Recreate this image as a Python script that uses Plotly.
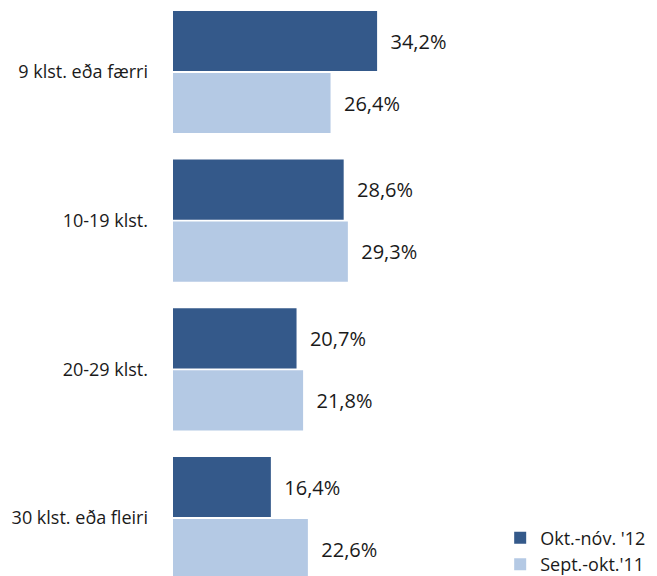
import plotly.graph_objects as go

categories = ["9 klst. eða færri", "10-19 klst.", "20-29 klst.", "30 klst. eða fleiri"]
series_names = ["Okt.-nóv. '12", "Sept.-okt.'11"]
values_2012 = [34.2, 28.6, 20.7, 16.4]
values_2011 = [26.4, 29.3, 21.8, 22.6]
colors = ["#34598A", "#B4C9E4"]

def fmt(v):
    return "  " + f"{v:.1f}".replace(".", ",") + "%"

fig = go.Figure()
for i, (name, vals, col) in enumerate(zip(series_names, [values_2012, values_2011], colors)):
    fig.add_trace(go.Bar(
        y=categories, x=vals, orientation="h", name=name,
        marker=dict(color=col, line=dict(width=0)),
        text=[fmt(v) for v in vals], textposition="outside",
        textfont=dict(size=20, color="#1a1a1a"),
        cliponaxis=False,
    ))

fig.update_layout(
    width=649, height=568,
    margin=dict(l=165, r=0, t=0, b=0, autoexpand=False),
    paper_bgcolor="white", plot_bgcolor="white",
    barmode="group", bargap=0.166, bargroupgap=0.03,
    font=dict(family="Open Sans", size=18, color="#1a1a1a"),
    showlegend=True,
    legend=dict(x=0.676, y=-0.0115, xanchor="left", yanchor="bottom",
                font=dict(size=18), traceorder="normal",
                itemwidth=30, tracegroupgap=0, bgcolor="rgba(0,0,0,0)"),
)
fig.update_xaxes(range=[0, 81.1], showgrid=False, zeroline=False,
                 showticklabels=False, showline=False, ticks="",
                 automargin=False)
fig.update_yaxes(type="category", range=[3.39, -0.4305], showgrid=False,
                 zeroline=False, showline=False, ticks="",
                 ticklabelstandoff=24, tickfont=dict(size=18),
                 automargin=False)

fig.write_html("out.html")
